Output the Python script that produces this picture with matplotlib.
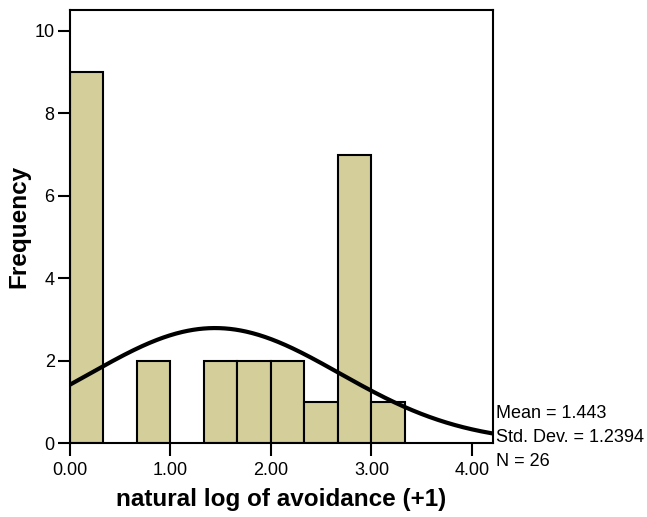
import numpy as np
import matplotlib
matplotlib.use("Agg")
import matplotlib.pyplot as plt

plt.rcParams['font.family'] = ['Liberation Sans', 'DejaVu Sans']

bin_width = 1/3
bin_starts = [0, 1, 2, 3, 4, 5, 6, 7, 8, 9]  # bin index
counts = [9, 0, 2, 0, 2, 2, 2, 1, 7, 1]
mean = 1.443
sd = 1.2394
n = 26
xticks = [0, 1, 2, 3, 4]
xticklabels = ["0.00", "1.00", "2.00", "3.00", "4.00"]
yticks = [0, 2, 4, 6, 8, 10]

fig = plt.figure(figsize=(6.47, 5.17), dpi=100)
ax = fig.add_axes([0.1082, 0.1431, 0.762 - 0.1082, 0.9816 - 0.1431])

lefts = [i * bin_width for i in bin_starts]
for l, c in zip(lefts, counts):
    if c > 0:
        ax.bar(l, c, width=bin_width, align='edge', color='#D3CE9A',
               edgecolor='black', linewidth=1.5, zorder=2)

xmin, xmax = 0, 4.21
xs = np.linspace(xmin, xmax, 400)
ys = n * bin_width / (sd * np.sqrt(2 * np.pi)) * np.exp(-0.5 * ((xs - mean) / sd) ** 2)
ax.plot(xs, ys, color='black', linewidth=3, zorder=3, solid_capstyle='butt')

ax.set_xlim(xmin, xmax)
ax.set_ylim(0, 10.52)
ax.set_xticks(xticks)
ax.set_xticklabels(xticklabels)
ax.set_yticks(yticks)
ax.tick_params(axis='both', direction='out', length=9, width=1.5, labelsize=13)
ax.tick_params(axis='x', pad=5)
ax.tick_params(axis='y', pad=2)
for s in ax.spines.values():
    s.set_linewidth(1.5)

ax.set_xlabel("natural log of avoidance (+1)", fontsize=17.5, fontweight='bold', labelpad=6)
ax.set_ylabel("Frequency", fontsize=17.5, fontweight='bold', labelpad=3)

fig.text(496/647, 1 - 413/517, "Mean = 1.443", fontsize=13, va='center', ha='left')
fig.text(496/647, 1 - 438/517, "Std. Dev. = 1.2394", fontsize=13, va='center', ha='left')
fig.text(496/647, 1 - 461/517, "N = 26", fontsize=13, va='center', ha='left')

fig.savefig("out.png", dpi=100)
